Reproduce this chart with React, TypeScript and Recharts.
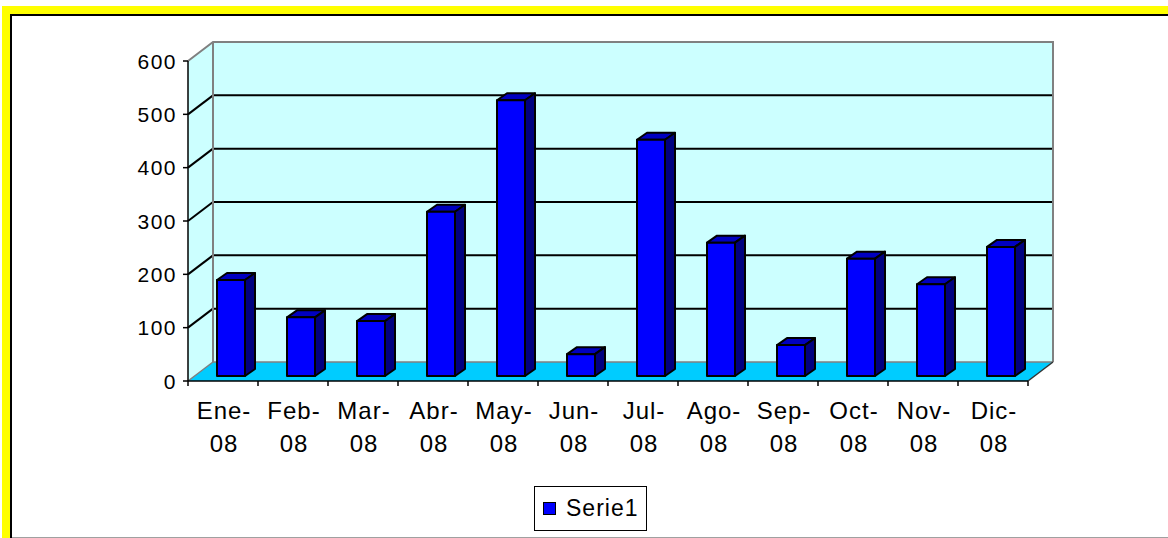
import React from "react";
import { Bar, BarChart, ReferenceArea, XAxis, YAxis } from "recharts";

const months = [
  "Ene-08", "Feb-08", "Mar-08", "Abr-08", "May-08", "Jun-08",
  "Jul-08", "Ago-08", "Sep-08", "Oct-08", "Nov-08", "Dic-08",
];
const serie1 = [180, 110, 103, 308, 517, 41, 443, 250, 58, 220, 172, 242];
const yTicks = [0, 100, 200, 300, 400, 500, 600];

const data = months.map((month, i) => ({ month, value: serie1[i] }));

const FONT = "'Liberation Sans', Arial, sans-serif";
// depth of the 3D box (back wall offset) and of each column
const WALL_DX = 25;
const WALL_DY = -19;
const COL_OX = 8;
const COL_OY = -5;
const COL_DX = 10;
const COL_DY = -7;

function Walls(props: any) {
  const { x, y, width, height } = props;
  const bottom = y + height;
  const right = x + width;
  const yOf = (v: number) => bottom - (v / 600) * height;
  const inner = yTicks.filter((v) => v > 0 && v < 600);
  return (
    <g>
      {/* side wall */}
      <polygon
        points={`${x},${y} ${x + WALL_DX},${y + WALL_DY} ${x + WALL_DX},${bottom + WALL_DY} ${x},${bottom}`}
        fill="#CCFFFF"
      />
      {/* back wall */}
      <rect x={x + WALL_DX} y={y + WALL_DY} width={width} height={height} fill="#CCFFFF" />
      {/* floor */}
      <polygon
        points={`${x},${bottom} ${right},${bottom} ${right + WALL_DX},${bottom + WALL_DY} ${x + WALL_DX},${bottom + WALL_DY}`}
        fill="#00CCFF"
      />
      {inner.map((v) => (
        <g key={v}>
          <line x1={x + WALL_DX} x2={right + WALL_DX} y1={yOf(v) + WALL_DY} y2={yOf(v) + WALL_DY} stroke="#000" strokeWidth={2} />
          <line x1={x} x2={x + WALL_DX} y1={yOf(v)} y2={yOf(v) + WALL_DY} stroke="#000" strokeWidth={2} />
        </g>
      ))}
      {/* wall borders */}
      <polyline
        points={`${x},${y} ${x + WALL_DX},${y + WALL_DY} ${right + WALL_DX},${y + WALL_DY} ${right + WALL_DX},${bottom + WALL_DY}`}
        fill="none"
        stroke="#808080"
        strokeWidth={2}
      />
      <line x1={x + WALL_DX} x2={x + WALL_DX} y1={y + WALL_DY} y2={bottom + WALL_DY} stroke="#808080" strokeWidth={2} />
      <line x1={x + WALL_DX} x2={right + WALL_DX} y1={bottom + WALL_DY} y2={bottom + WALL_DY} stroke="#808080" strokeWidth={1.5} />
      <line x1={x} x2={x + WALL_DX} y1={bottom} y2={bottom + WALL_DY} stroke="#808080" strokeWidth={1.5} />
      <line x1={right} x2={right + WALL_DX} y1={bottom} y2={bottom + WALL_DY} stroke="#333" strokeWidth={1.5} />
      {/* category boundary ticks */}
      {[...months, ""].map((_, k) => (
        <line
          key={k}
          x1={x + (width * k) / months.length}
          x2={x + (width * k) / months.length}
          y1={bottom}
          y2={bottom + 5}
          stroke="#000"
          strokeWidth={1.5}
        />
      ))}
    </g>
  );
}

function Column(props: any) {
  const { x, y, width, height } = props;
  if (height == null || width == null) return null;
  const fx = x + COL_OX;
  const fy = y + COL_OY;
  const r = fx + width;
  const b = fy + height;
  return (
    <g stroke="#000" strokeWidth={2} strokeLinejoin="round">
      <polygon
        points={`${fx},${fy} ${fx + COL_DX},${fy + COL_DY} ${r + COL_DX},${fy + COL_DY} ${r},${fy}`}
        fill="#0000C0"
      />
      <polygon
        points={`${r},${fy} ${r + COL_DX},${fy + COL_DY} ${r + COL_DX},${b + COL_DY} ${r},${b}`}
        fill="#000080"
      />
      <rect x={fx} y={fy} width={width} height={height} fill="#0000FF" />
    </g>
  );
}

function MonthTick(props: any) {
  const { x, y, payload } = props;
  const [mon, yr] = String(payload.value).split("-");
  return (
    <text x={x} y={y} textAnchor="middle" fill="#000" fontSize={24} fontFamily={FONT} letterSpacing={1}>
      <tspan x={x + 1} dy={36}>{mon}-</tspan>
      <tspan x={x + 1} dy={33}>{yr}</tspan>
    </text>
  );
}

function ValueTick(props: any) {
  const { x, y, payload } = props;
  return (
    <text x={x + 1} y={y} dy="0.36em" textAnchor="end" fill="#000" fontSize={21} fontFamily={FONT} letterSpacing={1.5}>
      {payload.value}
    </text>
  );
}

export default function App() {
  return (
    <div style={{ position: "relative", width: 1168, height: 538, background: "#fff", overflow: "hidden" }}>
      <style>{"body{margin:0}"}</style>
      <div style={{ position: "absolute", left: 2, top: 6, width: 8, height: 540, background: "#FFFF00" }} />
      <div style={{ position: "absolute", left: 2, top: 6, width: 1170, height: 8, background: "#FFFF00" }} />
      <div style={{ position: "absolute", left: 10, top: 14, width: 2, height: 530, background: "#000" }} />
      <div style={{ position: "absolute", left: 10, top: 14, width: 1160, height: 2, background: "#000" }} />
      <div style={{ position: "absolute", left: 12, top: 537, width: 1160, height: 1, background: "#A0A0A0" }} />
      <div style={{ position: "absolute", left: 0, top: 0 }}>
        <BarChart
          width={1168}
          height={538}
          data={data}
          margin={{ top: 61, right: 140, left: 8, bottom: 97 }}
          barCategoryGap="30%"
        >
          <XAxis
            dataKey="month"
            interval={0}
            height={60}
            tickLine={false}
            tickSize={0}
            axisLine={{ stroke: "#000", strokeWidth: 1.5 }}
            tick={<MonthTick />}
          />
          <YAxis
            domain={[0, 600]}
            ticks={yTicks}
            interval={0}
            width={180}
            tickSize={5}
            tickMargin={7}
            axisLine={{ stroke: "#000", strokeWidth: 1.5 }}
            tickLine={{ stroke: "#000", strokeWidth: 1.5 }}
            tick={<ValueTick />}
          />
          <ReferenceArea y1={0} y2={600} ifOverflow="visible" shape={(p: any) => <Walls {...p} />} />
          <Bar dataKey="value" name="Serie1" shape={(p: any) => <Column {...p} />} isAnimationActive={false} />
        </BarChart>
      </div>
      <div
        style={{
          position: "absolute",
          left: 534,
          top: 486,
          width: 113,
          height: 45,
          boxSizing: "border-box",
          border: "1.5px solid #000",
          display: "flex",
          alignItems: "center",
          fontFamily: FONT,
          fontSize: 23,
          letterSpacing: 1,
          color: "#000",
        }}
      >
        <span style={{ display: "inline-block", width: 13, height: 13, boxSizing: "border-box", border: "1px solid #000", background: "#0000FF", marginLeft: 8, marginRight: 10 }} />
        <span>Serie1</span>
      </div>
    </div>
  );
}
